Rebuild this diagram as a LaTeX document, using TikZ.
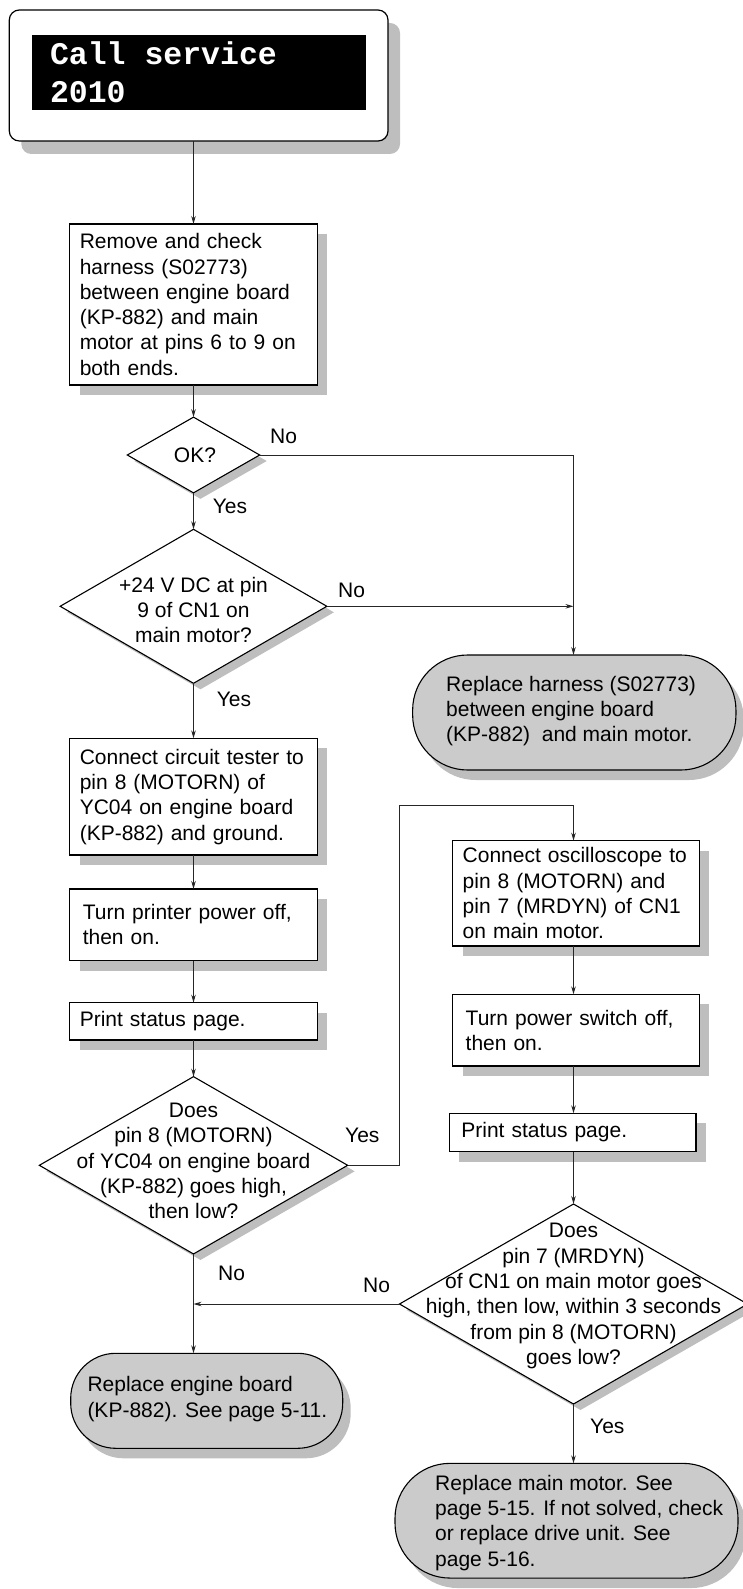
\documentclass[tikz,border=0pt]{standalone}
\usepackage{fontspec}
\setmainfont{Liberation Sans}
\newfontfamily\scrfont{Liberation Mono}
\usetikzlibrary{shapes.geometric,shadows,arrows.meta,calc}
\definecolor{shd}{HTML}{BEBEBE}
\definecolor{termfill}{HTML}{CBCBCB}
\definecolor{lc}{HTML}{262626}
\tikzset{
  bodyf/.style={font=\fontsize{21}{25.3}\selectfont},
  pbox/.style={rectangle, draw=black, line width=1.2pt, fill=white, align=left,
    inner xsep=10pt, inner ysep=0pt, outer sep=0pt, bodyf,
    drop shadow={shadow xshift=10pt, shadow yshift=-10pt, fill=shd, opacity=1}},
  dia/.style={diamond, draw=black, line width=1.1pt, fill=white, inner sep=0pt, outer sep=0pt,
    drop shadow={shadow xshift=7pt, shadow yshift=-6pt, fill=shd, opacity=1}},
  term/.style={rectangle, draw=black, line width=1.1pt, fill=termfill, inner sep=0pt, outer sep=0pt,
    drop shadow={shadow xshift=8pt, shadow yshift=-10pt, fill=shd, opacity=1}},
  txt/.style={bodyf, align=left, inner sep=0pt},
  ctxt/.style={bodyf, align=center, inner sep=0pt},
  lbl/.style={bodyf, inner sep=0pt, anchor=west},
  arr/.style={draw=lc, line width=0.9pt, -{Stealth[length=8pt,width=4.5pt]}},
}
\begin{document}
\begin{tikzpicture}[x=1pt,y=-1pt]
\useasboundingbox (0,0) rectangle (742,1589);

% start display
\node[rectangle, rounded corners=10pt, draw=black, line width=1.2pt, fill=white,
  minimum width=378.7pt, minimum height=131pt, inner sep=0pt, outer sep=0pt,
  drop shadow={shadow xshift=12pt, shadow yshift=-13pt, fill=shd, opacity=1}]
  (start) at (198.65,75.5) {};
\node[rectangle, fill=black, text=white, minimum width=334pt, minimum height=75pt,
  text width=298pt, inner xsep=18pt, inner ysep=0pt, align=left,
  font=\scrfont\bfseries\fontsize{31.5}{38}\selectfont]
  (scr) at (199,72.5) {Call\hspace*{0.6em}service\\2010};

% left column
\node[pbox, text width=227.4pt, minimum height=161pt] (box1) at (193.5,304.5)
  {Remove and check\\harness (S02773)\\between engine board\\(KP-882) and main\\motor at pins 6 to 9 on\\both ends.};
\node[dia, minimum width=132.4pt, minimum height=75.7pt] (ok) at (193.5,455) {};
\node[ctxt] (oktxt) at (195,455) {OK?};
\node[dia, minimum width=266.7pt, minimum height=154pt] (d2) at (193.5,606.3) {};
\node[ctxt] (d2txt) at (193.5,610) {+24 V DC at pin\\9 of CN1 on\\main motor?};
\node[pbox, text width=227.4pt, minimum height=116.7pt] (box2) at (193.5,796.7)
  {Connect circuit tester to\\pin 8 (MOTORN) of\\YC04 on engine board\\(KP-882) and ground.};
\node[pbox, text width=227.4pt, minimum height=71.7pt] (box3) at (193.5,924.8)
  {\hspace*{3pt}Turn printer power off,\\\hspace*{3pt}then on.};
\node[pbox, text width=227.4pt, minimum height=37.3pt] (box4) at (193.5,1021.3)
  {Print status page.};
\node[dia, minimum width=308.3pt, minimum height=177.3pt] (d3) at (193.5,1165.3) {};
\node[ctxt] (d3txt) at (193.5,1161) {Does\\pin 8 (MOTORN)\\of YC04 on engine board\\(KP-882) goes high,\\then low?};
\node[term, rounded corners=45pt, minimum width=272pt, minimum height=95pt] (t2) at (206.7,1400.8) {};
\node[txt, anchor=west] (t2txt) at (87.3,1399) {Replace engine board\\(KP-882). See page 5-11.};

% right column
\node[term, rounded corners=55pt, minimum width=323.3pt, minimum height=115pt] (t1) at (574.3,712.5) {};
\node[txt, anchor=west] (t1txt) at (446,711) {Replace harness (S02773)\\between engine board\\(KP-882)\ \ and main motor.};
\node[pbox, text width=226.6pt, minimum height=105.3pt] (box5) at (576,893.3)
  {Connect oscilloscope to\\pin 8 (MOTORN) and\\pin 7 (MRDYN) of CN1\\on main motor.};
\node[pbox, text width=226.6pt, minimum height=71.7pt] (box6) at (576,1030.2)
  {\hspace*{3pt}Turn power switch off,\\\hspace*{3pt}then on.};
\node[pbox, text width=226.7pt, minimum height=38.4pt] (box7) at (572.7,1132.5)
  {\hspace*{2pt}Print status page.};
\node[dia, minimum width=348pt, minimum height=200pt] (d4) at (573.5,1304) {};
\node[ctxt] (d4txt) at (573.5,1296) {Does\\pin 7 (MRDYN)\\of CN1 on main motor goes\\high, then low, within 3 seconds\\from pin 8 (MOTORN)\\goes low?};
\node[term, rounded corners=55pt, minimum width=343pt, minimum height=114.7pt] (t3) at (566.5,1520.7) {};
\node[txt, anchor=west] (t3txt) at (435,1522.7) {Replace main motor. See\\page 5-15. If not solved, check\\or replace drive unit. See\\page 5-16.};

\coordinate (colR) at (573.5,0);
\coordinate (yesturn) at (399.3,805.7);

% connectors
\draw[arr] (box1.north |- start.south) -- (box1.north);
\draw[arr] (box1.south) -- (ok.north);
\draw[arr] (ok.south) -- (d2.north);
\draw[arr] (ok.east) -| (colR |- t1.north);
\draw[arr] (d2.east) -- (d2.east -| colR);
\draw[arr] (d2.south) -- (box2.north);
\draw[arr] (box2.south) -- (box3.north);
\draw[arr] (box3.south) -- (box4.north);
\draw[arr] (box4.south) -- (d3.north);
\draw[arr] (d3.east) -| (yesturn) -- (yesturn -| colR) -- (colR |- box5.north);
\draw[arr] (d3.south) -- (d3.south |- t2.north);
\draw[arr] (colR |- box5.south) -- (colR |- box6.north);
\draw[arr] (colR |- box6.south) -- (colR |- box7.north);
\draw[arr] (colR |- box7.south) -- (d4.north);
\draw[arr] (d4.west) -- (d4.west -| d3.south);
\draw[arr] (d4.south) -- (d4.south |- t3.north);

% labels
\node[lbl] (lno1) at (270,436.7) {No};
\node[lbl] (lyes1) at (212.7,506.7) {Yes};
\node[lbl] (lno2) at (338,590) {No};
\node[lbl] (lyes2) at (216.7,699.3) {Yes};
\node[lbl] (lyes3) at (345,1135) {Yes};
\node[lbl] (lno3) at (218,1273.3) {No};
\node[lbl] (lno4) at (363,1285) {No};
\node[lbl] (lyes4) at (590,1426.7) {Yes};
\end{tikzpicture}
\end{document}
